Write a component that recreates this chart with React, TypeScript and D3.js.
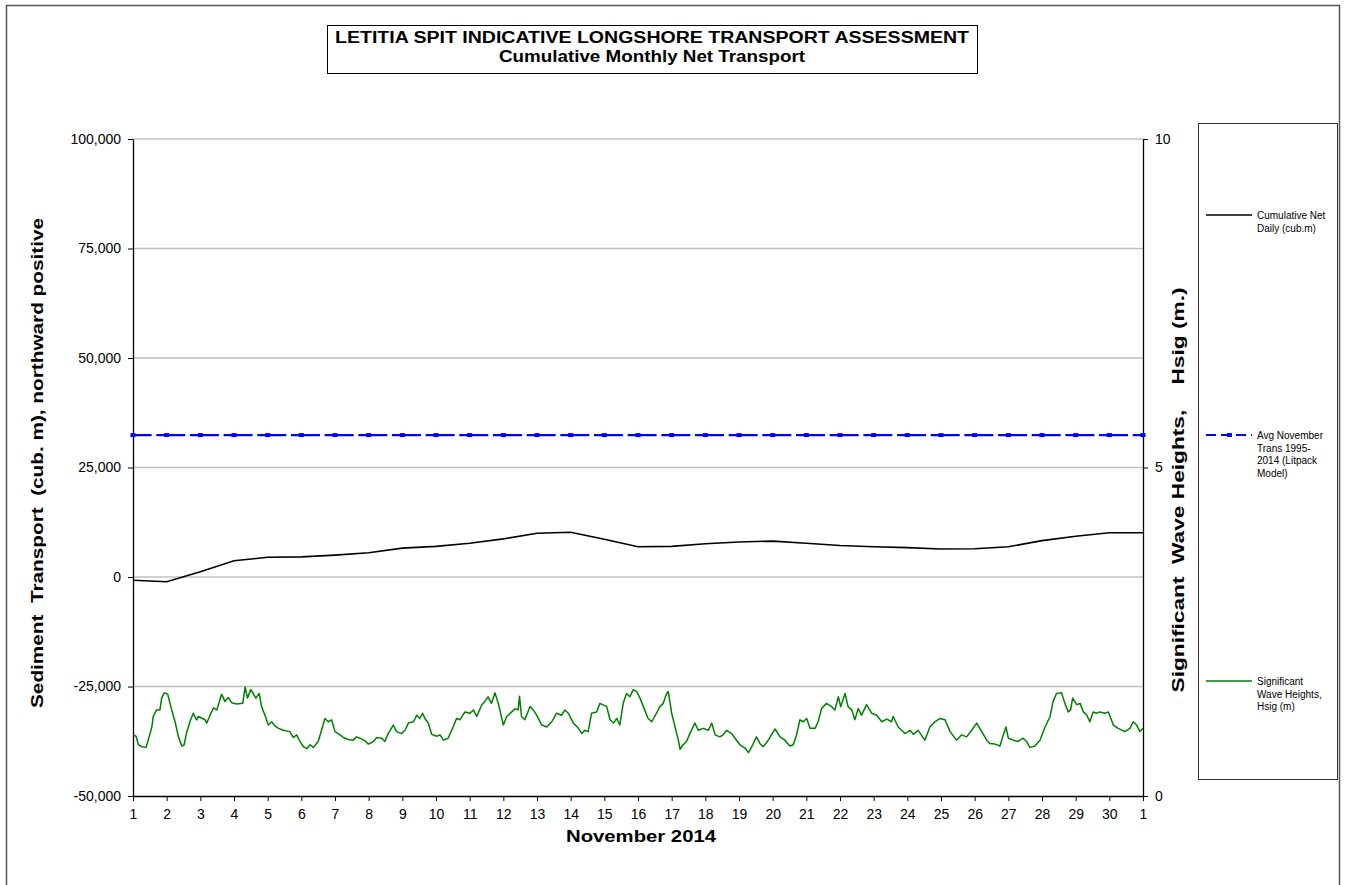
import React, { useEffect, useRef } from 'react';
import * as d3 from 'd3';

// ---- data ----
const dayLabels = ['1', '2', '3', '4', '5', '6', '7', '8', '9', '10', '11', '12', '13', '14', '15', '16',
  '17', '18', '19', '20', '21', '22', '23', '24', '25', '26', '27', '28', '29', '30', '1'];

// cumulative net daily transport (cub.m), one value per day tick
const cumulativeNet = [-750, -1070, 1200, 3700, 4500, 4600, 5000, 5550, 6600, 7000, 7700, 8700, 10000,
  10200, 8600, 6900, 7000, 7600, 8000, 8200, 7700, 7200, 6900, 6700, 6400, 6450, 6900, 8300, 9300,
  10100, 10100];

// Avg November transport 1995-2014 (Litpack model)
const avgNovemberTrans = 32400;

// significant wave height: [days since 1 Nov, Hsig m]
const waveHsig: [number, number][] = [
  [0.01, 0.93], [0.09, 0.91], [0.16, 0.78], [0.26, 0.75], [0.39, 0.74], [0.45, 0.85], [0.56, 1.05], [0.60, 1.21],
  [0.70, 1.31], [0.80, 1.31], [0.85, 1.49], [0.93, 1.57], [1.03, 1.55], [1.15, 1.31], [1.25, 1.13], [1.35, 0.90],
  [1.45, 0.76], [1.52, 0.78], [1.59, 0.96], [1.69, 1.13], [1.79, 1.26], [1.89, 1.16], [1.94, 1.21], [2.14, 1.16],
  [2.19, 1.11], [2.29, 1.23], [2.39, 1.34], [2.49, 1.31], [2.58, 1.46], [2.63, 1.55], [2.73, 1.44], [2.83, 1.50],
  [2.93, 1.42], [3.08, 1.40], [3.26, 1.41], [3.33, 1.66], [3.40, 1.49], [3.50, 1.62], [3.57, 1.56], [3.65, 1.49],
  [3.75, 1.56], [3.82, 1.36], [3.92, 1.23], [4.02, 1.08], [4.12, 1.13], [4.19, 1.08], [4.32, 1.03], [4.46, 1.00],
  [4.66, 0.98], [4.76, 0.89], [4.86, 0.93], [4.96, 0.83], [5.06, 0.75], [5.16, 0.72], [5.26, 0.78], [5.36, 0.74],
  [5.50, 0.83], [5.60, 1.00], [5.70, 1.18], [5.80, 1.13], [5.90, 1.16], [6.00, 0.98], [6.15, 0.93], [6.25, 0.89],
  [6.39, 0.86], [6.54, 0.85], [6.64, 0.90], [6.74, 0.88], [6.89, 0.84], [6.99, 0.79], [7.14, 0.83], [7.24, 0.89],
  [7.39, 0.88], [7.48, 0.83], [7.58, 0.95], [7.73, 1.08], [7.83, 0.98], [7.98, 0.95], [8.08, 1.00], [8.18, 1.11],
  [8.33, 1.13], [8.43, 1.23], [8.52, 1.18], [8.60, 1.26], [8.67, 1.18], [8.77, 1.11], [8.87, 0.94], [9.02, 0.91],
  [9.12, 0.93], [9.22, 0.85], [9.36, 0.88], [9.51, 1.05], [9.61, 1.18], [9.71, 1.16], [9.86, 1.28], [10.01, 1.26],
  [10.11, 1.31], [10.21, 1.21], [10.36, 1.39], [10.45, 1.44], [10.55, 1.51], [10.65, 1.41], [10.75, 1.57], [10.85, 1.41],
  [11.00, 1.08], [11.10, 1.21], [11.25, 1.28], [11.35, 1.33], [11.44, 1.31], [11.48, 1.52], [11.54, 1.21], [11.64, 1.16],
  [11.79, 1.36], [11.89, 1.31], [11.99, 1.23], [12.14, 1.08], [12.29, 1.05], [12.44, 1.13], [12.58, 1.26], [12.73, 1.23],
  [12.83, 1.31], [12.93, 1.26], [13.08, 1.11], [13.23, 1.03], [13.33, 0.95], [13.42, 1.00], [13.52, 0.98], [13.62, 1.26],
  [13.77, 1.28], [13.87, 1.41], [14.07, 1.36], [14.17, 1.16], [14.27, 1.11], [14.37, 1.18], [14.46, 1.08], [14.56, 1.41],
  [14.66, 1.56], [14.76, 1.51], [14.86, 1.62], [14.96, 1.59], [15.06, 1.49], [15.16, 1.36], [15.30, 1.18], [15.41, 1.13],
  [15.55, 1.26], [15.65, 1.36], [15.75, 1.41], [15.85, 1.56], [15.90, 1.59], [16.00, 1.26], [16.10, 1.05], [16.20, 0.85],
  [16.25, 0.71], [16.34, 0.78], [16.44, 0.83], [16.54, 0.95], [16.69, 1.11], [16.79, 1.00], [16.94, 1.03], [17.09, 1.00],
  [17.19, 1.11], [17.29, 0.93], [17.43, 0.90], [17.53, 0.93], [17.63, 1.00], [17.78, 0.95], [17.88, 0.88], [18.03, 0.78],
  [18.18, 0.73], [18.28, 0.66], [18.38, 0.75], [18.52, 0.90], [18.62, 0.80], [18.72, 0.75], [18.87, 0.85], [19.07, 1.02],
  [19.22, 0.90], [19.36, 0.85], [19.51, 0.76], [19.61, 0.78], [19.71, 0.93], [19.81, 1.16], [19.91, 1.13], [20.01, 1.18],
  [20.11, 1.03], [20.26, 1.03], [20.35, 1.13], [20.45, 1.33], [20.60, 1.41], [20.75, 1.36], [20.85, 1.31], [20.95, 1.51],
  [21.02, 1.36], [21.15, 1.56], [21.24, 1.36], [21.35, 1.31], [21.44, 1.16], [21.54, 1.33], [21.64, 1.23], [21.79, 1.39],
  [21.94, 1.26], [22.09, 1.23], [22.24, 1.13], [22.39, 1.17], [22.53, 1.13], [22.58, 1.21], [22.73, 1.05], [22.93, 0.95],
  [23.08, 1.00], [23.18, 0.94], [23.32, 1.00], [23.52, 0.85], [23.67, 1.05], [23.82, 1.13], [23.97, 1.18], [24.12, 1.16],
  [24.27, 0.98], [24.46, 0.85], [24.61, 0.93], [24.76, 0.90], [24.91, 1.00], [25.06, 1.11], [25.21, 0.98], [25.36, 0.85],
  [25.45, 0.80], [25.60, 0.79], [25.75, 0.76], [25.85, 0.93], [25.93, 1.05], [26.00, 0.88], [26.15, 0.85], [26.29, 0.83],
  [26.44, 0.88], [26.54, 0.83], [26.64, 0.74], [26.79, 0.76], [26.94, 0.85], [27.09, 1.05], [27.24, 1.21], [27.33, 1.44],
  [27.43, 1.56], [27.58, 1.57], [27.68, 1.41], [27.78, 1.28], [27.85, 1.31], [27.91, 1.49], [28.03, 1.39], [28.13, 1.41],
  [28.23, 1.28], [28.33, 1.23], [28.42, 1.13], [28.52, 1.28], [28.62, 1.26], [28.72, 1.28], [28.87, 1.26], [28.97, 1.28],
  [29.12, 1.08], [29.26, 1.03], [29.46, 0.98], [29.61, 1.03], [29.71, 1.13], [29.81, 1.08], [29.91, 0.98], [30.00, 1.03],
];

const leftTicks = [-50000, -25000, 0, 25000, 50000, 75000, 100000];
const rightTicks = [0, 5, 10];

const FONT = '"Liberation Sans", Arial, sans-serif';

const App = () => {
  const svgRef = useRef<SVGSVGElement>(null);

  useEffect(() => {
    const width = 1347;
    const height = 885;
    const plot = { left: 133, right: 1143, top: 139, bottom: 796 };
    const svg = d3.select(svgRef.current);
    svg.selectAll('*').remove();

    const x = d3.scaleLinear().domain([0, dayLabels.length - 1]).range([plot.left, plot.right]);
    const yL = d3.scaleLinear().domain([-50000, 100000]).range([plot.bottom, plot.top]);
    const yR = d3.scaleLinear().domain([0, 10]).range([plot.bottom, plot.top]);
    const fmt = d3.formatLocale({ decimal: '.', thousands: ',', grouping: [3], currency: ['', ''], minus: '-' }).format(',');

    // outer chart frame
    svg.append('rect').attr('x', 6.5).attr('y', 5.5).attr('width', 1333).attr('height', height + 20)
      .attr('fill', '#fff').attr('stroke', '#555').attr('stroke-width', 1.5);

    // title box (text is drawn wide in the original, so stretch to its width)
    svg.append('rect').attr('x', 327.5).attr('y', 25.5).attr('width', 650).attr('height', 48)
      .attr('fill', '#fff').attr('stroke', '#000');
    const title = svg.append('text').attr('text-anchor', 'middle').attr('font-family', FONT)
      .attr('font-weight', 'bold').attr('font-size', 16);
    title.append('tspan').attr('x', 652).attr('y', 43).attr('textLength', 634).attr('lengthAdjust', 'spacingAndGlyphs')
      .text('LETITIA SPIT INDICATIVE LONGSHORE TRANSPORT ASSESSMENT');
    title.append('tspan').attr('x', 652).attr('y', 62).attr('textLength', 306).attr('lengthAdjust', 'spacingAndGlyphs')
      .text('Cumulative Monthly Net Transport');

    // gridlines
    svg.append('g').selectAll('line').data(leftTicks.filter(d => d !== -50000)).enter()
      .append('line')
      .attr('x1', plot.left).attr('x2', plot.right)
      .attr('y1', d => yL(d)).attr('y2', d => yL(d))
      .attr('stroke', '#c0c0c0').attr('stroke-width', 1.3);

    // axes
    const styleAxis = (g: any) => {
      g.attr('font-family', FONT).attr('font-size', 14);
      g.selectAll('path').attr('stroke', '#000').attr('stroke-width', 1.3);
      g.selectAll('line').attr('stroke', '#000');
      g.selectAll('text').attr('fill', '#000');
    };
    svg.append('g').attr('transform', `translate(${plot.left},0)`)
      .call(d3.axisLeft(yL).tickValues(leftTicks).tickFormat(d => fmt(d as number)).tickSize(5).tickSizeOuter(0).tickPadding(7))
      .call(styleAxis);
    svg.append('g').attr('transform', `translate(${plot.right},0)`)
      .call(d3.axisRight(yR).tickValues(rightTicks).tickFormat(d => String(d)).tickSize(5).tickSizeOuter(0).tickPadding(7))
      .call(styleAxis);
    svg.append('g').attr('transform', `translate(0,${plot.bottom})`)
      .call(d3.axisBottom(x).tickValues(dayLabels.map((_, i) => i)).tickFormat(i => dayLabels[i as number]).tickSize(5).tickSizeOuter(0).tickPadding(8))
      .call(styleAxis);

    // axis titles
    svg.append('text').attr('transform', 'translate(43,463) rotate(-90)')
      .attr('text-anchor', 'middle').attr('font-family', FONT).attr('font-weight', 'bold').attr('font-size', 16)
      .attr('textLength', 490).attr('lengthAdjust', 'spacingAndGlyphs')
      .style('white-space', 'pre')
      .text('Sediment  Transport  (cub. m), northward positive');
    svg.append('text').attr('transform', 'translate(1184,490) rotate(-90)')
      .attr('text-anchor', 'middle').attr('font-family', FONT).attr('font-weight', 'bold').attr('font-size', 16)
      .attr('textLength', 405).attr('lengthAdjust', 'spacingAndGlyphs')
      .style('white-space', 'pre')
      .text('Significant  Wave Heights,    Hsig (m.)');
    svg.append('text').attr('x', 641).attr('y', 842)
      .attr('text-anchor', 'middle').attr('font-family', FONT).attr('font-weight', 'bold').attr('font-size', 16)
      .attr('textLength', 150).attr('lengthAdjust', 'spacingAndGlyphs')
      .text('November 2014');

    // series
    const lineWave = d3.line<[number, number]>().x(d => x(d[0])).y(d => yR(d[1]));
    svg.append('path').attr('d', lineWave(waveHsig)).attr('fill', 'none')
      .attr('stroke', '#008000').attr('stroke-width', 1.5).attr('stroke-linejoin', 'round');

    const avgSeries = dayLabels.map((_, i) => [i, avgNovemberTrans] as [number, number]);
    const lineL = d3.line<[number, number]>().x(d => x(d[0])).y(d => yL(d[1]));
    svg.append('path').attr('d', lineL(avgSeries)).attr('fill', 'none')
      .attr('stroke', '#0000ff').attr('stroke-width', 2.2)
      .attr('stroke-dasharray', '29,4.67').attr('stroke-dashoffset', 10.4);
    svg.append('g').selectAll('rect').data(avgSeries).enter().append('rect')
      .attr('x', d => x(d[0]) - 2.5).attr('y', d => yL(d[1]) - 2)
      .attr('width', 5).attr('height', 4).attr('fill', '#0000ff');

    const netSeries = cumulativeNet.map((v, i) => [i, v] as [number, number]);
    svg.append('path').attr('d', lineL(netSeries)).attr('fill', 'none')
      .attr('stroke', '#000').attr('stroke-width', 1.6);

    // legend
    svg.append('rect').attr('x', 1198.5).attr('y', 123.5).attr('width', 139).attr('height', 656)
      .attr('fill', '#fff').attr('stroke', '#333');
    const legendItems = [
      { y: 215, lines: ['Cumulative Net', 'Daily (cub.m)'], color: '#000', dash: null },
      { y: 435, lines: ['Avg November', 'Trans 1995-', '2014 (Litpack', 'Model)'], color: '#0000ff', dash: '10,5' },
      { y: 681, lines: ['Significant', 'Wave Heights,', 'Hsig (m)'], color: '#008000', dash: null },
    ];
    const lg = svg.append('g').selectAll('g').data(legendItems).enter().append('g');
    lg.append('line').attr('x1', 1206).attr('x2', 1252).attr('y1', d => d.y).attr('y2', d => d.y)
      .attr('stroke', d => d.color).attr('stroke-width', (d, i) => (i === 1 ? 2.2 : 1.6))
      .attr('stroke-dasharray', d => d.dash);
    lg.filter((d, i) => i === 1).append('rect').attr('x', 1227).attr('y', d => d.y - 2)
      .attr('width', 5).attr('height', 4).attr('fill', '#0000ff');
    const lt = lg.append('text').attr('font-family', FONT).attr('font-size', 10).attr('fill', '#000');
    lt.selectAll('tspan').data(d => d.lines.map((l, k) => ({ l, y: d.y + 4 + k * 12.5 }))).enter()
      .append('tspan').attr('x', 1257).attr('y', d => d.y).text(d => d.l);

    svg.attr('width', width).attr('height', height);
  }, []);

  return (
    <svg ref={svgRef} width={1347} height={885} style={{ position: 'absolute', left: 0, top: 0, background: '#fff' }} />
  );
};

export default App;
